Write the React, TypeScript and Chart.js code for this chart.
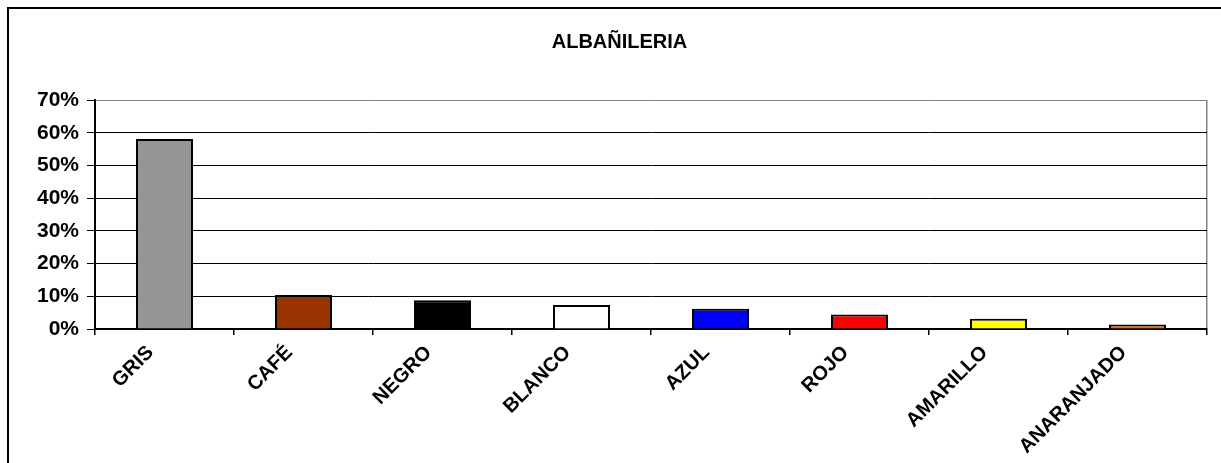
import React, { useEffect, useRef } from 'react';
import { Chart, registerables } from 'chart.js';

Chart.register(...registerables);

const chartTitle = 'ALBAÑILERIA';
const categories = ['GRIS', 'CAFÉ', 'NEGRO', 'BLANCO', 'AZUL', 'ROJO', 'AMARILLO', 'ANARANJADO'];
const values = [58.1, 10.4, 8.8, 7.3, 6.2, 4.4, 3.1, 1.4];
const barColors = ['#969696', '#993300', '#000000', '#FFFFFF', '#0000FF', '#FF0000', '#FFFF00', '#FF6600'];
const yMin = 0;
const yMax = 70;
const yStep = 10;
const yTickSuffix = '%';

const FONT = "'Liberation Sans', Arial, sans-serif";

export default function App() {
  const canvasRef = useRef<HTMLCanvasElement | null>(null);

  useEffect(() => {
    if (!canvasRef.current) return;
    const chart = new Chart(canvasRef.current, {
      type: 'bar',
      data: {
        labels: categories,
        datasets: [
          {
            data: values,
            backgroundColor: barColors,
            borderColor: '#000000',
            borderWidth: 2,
            barPercentage: 0.41,
            categoryPercentage: 1,
          },
        ],
      },
      options: {
        responsive: false,
        animation: false,
        devicePixelRatio: 1,
        layout: { padding: { left: 32, right: 31, top: 0, bottom: 0 } },
        plugins: {
          legend: { display: false },
          tooltip: { enabled: false },
          title: {
            display: true,
            text: chartTitle,
            color: '#000',
            font: { family: FONT, size: 20, weight: 'bold', lineHeight: 1.2 },
            padding: { top: 30, bottom: 46 },
          },
        },
        scales: {
          x: {
            offset: true,
            grid: {
              offset: true,
              drawOnChartArea: true,
              color: (ctx: any) => (ctx.tick ? 'rgba(0,0,0,0)' : '#808080'),
              tickColor: '#000',
              tickLength: 6,
              lineWidth: 1.5,
            },
            border: { display: true, color: '#000', width: 2 },
            ticks: {
              color: '#000',
              font: { family: FONT, size: 20, weight: 'bold' },
              minRotation: 45,
              maxRotation: 45,
              autoSkip: false,
              labelOffset: -14,
              padding: 6,
            },
            afterFit: (s: any) => {
              s.height = 134;
              s.paddingLeft = 0;
              s.paddingRight = 0;
            },
          },
          y: {
            min: yMin,
            max: yMax,
            grid: {
              color: (ctx: any) => (ctx.tick && ctx.tick.value === yMax ? '#808080' : '#000'),
              tickColor: '#000',
              tickLength: 8,
              lineWidth: 1,
            },
            border: { display: true, color: '#000', width: 2 },
            ticks: {
              stepSize: yStep,
              color: '#000',
              font: { family: FONT, size: 21, weight: 'bold' },
              padding: 8,
              callback: (v: any) => `${v}${yTickSuffix}`,
            },
            afterFit: (s: any) => {
              s.width = 63;
            },
          },
        },
      },
    });
    return () => chart.destroy();
  }, []);

  return (
    <div
      style={{
        position: 'fixed',
        left: 0,
        top: 0,
        width: 1221,
        height: 463,
        overflow: 'hidden',
        background: '#fff',
      }}
    >
      <canvas ref={canvasRef} width={1238} height={463} style={{ position: 'absolute', left: 0, top: 0 }} />
      <div
        style={{
          position: 'absolute',
          left: 7,
          top: 7,
          width: 1240,
          height: 480,
          border: '2px solid #000',
          boxSizing: 'border-box',
          pointerEvents: 'none',
        }}
      />
    </div>
  );
}
